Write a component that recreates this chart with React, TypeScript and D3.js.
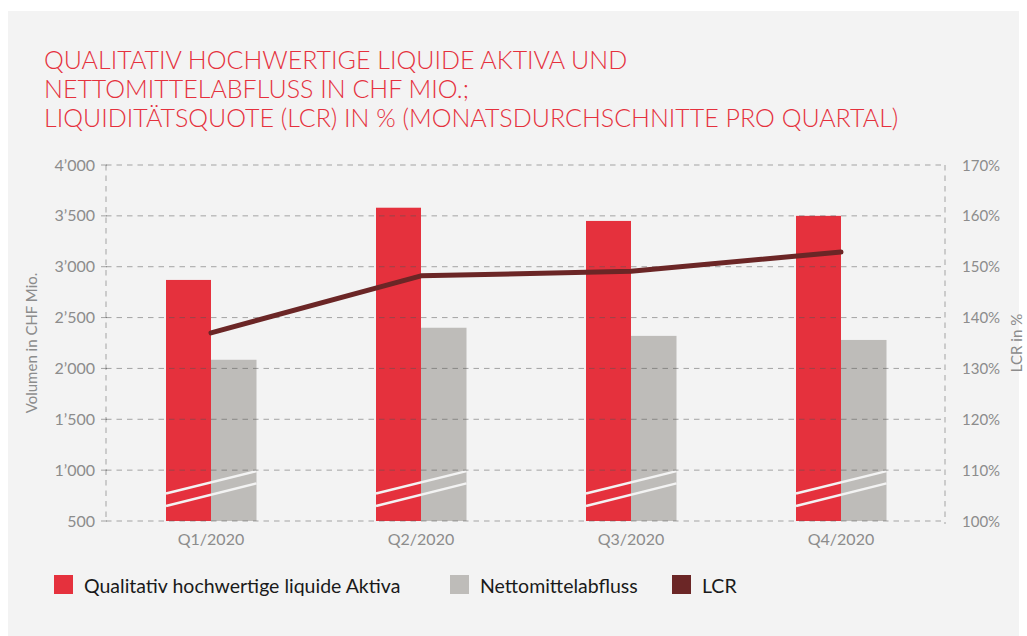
import React from 'react';
import * as d3 from 'd3';

const quarters = ['Q1/2020', 'Q2/2020', 'Q3/2020', 'Q4/2020'];
const hqla = [2870, 3580, 3450, 3500];
const netOutflow = [2085, 2400, 2320, 2280];
const lcr = [137.0, 148.2, 149.1, 152.9];
const leftTicks = [500, 1000, 1500, 2000, 2500, 3000, 3500, 4000];
const rightTicks = [100, 110, 120, 130, 140, 150, 160, 170];
// axis break marks, drawn as two white strokes across each group (in CHF Mio.)
const breakLines = [[770, 990], [648, 870]];

const titleLines = [
  'QUALITATIV HOCHWERTIGE LIQUIDE AKTIVA UND',
  'NETTOMITTELABFLUSS IN CHF MIO.;',
  'LIQUIDITÄTSQUOTE (LCR) IN % (MONATSDURCHSCHNITTE PRO QUARTAL)',
];
const legendItems = [
  { label: 'Qualitativ hochwertige liquide Aktiva', color: '#e5313d', x: 54 },
  { label: 'Nettomittelabfluss', color: '#bebcb9', x: 450 },
  { label: 'LCR', color: '#6b2626', x: 672 },
];

const RED = '#e5313d';
const GREY = '#bebcb9';
const LCR_COL = '#6b2626';
const FONT = 'Lato, "Open Sans", sans-serif';

const W = 1027;
const H = 636;
const left = 106;
const right = 946;
const top = 165;
const bottom = 521;

export default function App() {
  const x = d3.scaleBand<string>().domain(quarters).range([left, right]).paddingInner(0).paddingOuter(0);
  const yL = d3.scaleLinear().domain([500, 4000]).range([bottom, top]);
  const yR = d3.scaleLinear().domain([100, 170]).range([bottom, top]);
  const barW = 45;
  const groupOff = (x.bandwidth() - barW * 2) / 2;

  const line = d3
    .line<number>()
    .x((_, i) => (x(quarters[i]) as number) + groupOff + barW)
    .y((d) => yR(d));

  return (
    <svg width={W} height={H} style={{ position: 'absolute', left: 0, top: 0 }} fontFamily={FONT}>
      <rect x={8} y={11} width={1011} height={H - 11} fill="#f3f3f3" />

      {/* title */}
      {titleLines.map((t, i) => (
        <text key={i} x={44} y={69 + i * 29} fill="#e5313d" fontSize={25} fontWeight={300}>
          {t}
        </text>
      ))}

      {/* bars */}
      {quarters.map((q, i) => {
        const gx = (x(q) as number) + groupOff;
        return (
          <g key={q}>
            <rect x={gx} y={yL(hqla[i])} width={barW} height={bottom - yL(hqla[i])} fill={RED} />
            <rect x={gx + barW} y={yL(netOutflow[i])} width={barW + 0.5} height={bottom - yL(netOutflow[i])} fill={GREY} />
            {breakLines.map((b, j) => (
              <line
                key={j}
                x1={gx}
                x2={gx + barW * 2 + 0.5}
                y1={yL(b[0])}
                y2={yL(b[1])}
                stroke="#f3f3f3"
                strokeWidth={2.5}
              />
            ))}
          </g>
        );
      })}

      {/* grid lines */}
      {leftTicks.map((t) => (
        <line
          key={t}
          x1={left}
          x2={right}
          y1={yL(t)}
          y2={yL(t)}
          stroke="#555"
          strokeOpacity={0.5}
          strokeDasharray="5.5,5"
        />
      ))}
      <line x1={left} x2={left} y1={top} y2={bottom} stroke="#555" strokeOpacity={0.5} strokeDasharray="5.5,5" />
      <line x1={right - 1} x2={right - 1} y1={top} y2={bottom + 3} stroke="#555" strokeOpacity={0.5} strokeDasharray="5.5,5" />
      {leftTicks.map((t) => (
        <line key={'tk' + t} x1={left - 5} x2={left + 1} y1={yL(t)} y2={yL(t)} stroke="#555" strokeOpacity={0.5} />
      ))}

      {/* LCR line */}
      <path d={line(lcr) as string} fill="none" stroke={LCR_COL} strokeWidth={5} strokeLinecap="round" strokeLinejoin="round" />

      {/* left axis labels */}
      {leftTicks.map((t) => (
        <text key={'l' + t} x={95} y={yL(t) + 5.5} textAnchor="end" fill="#8c8c8c" fontSize={16}>
          {d3.format(',')(t).replace(',', '’')}
        </text>
      ))}
      {/* right axis labels */}
      {rightTicks.map((t) => (
        <text key={'r' + t} x={962} y={yR(t) + 5.5} textAnchor="start" fill="#8c8c8c" fontSize={15}>
          {t}%
        </text>
      ))}
      {/* x labels */}
      {quarters.map((q) => (
        <text key={'x' + q} x={(x(q) as number) + x.bandwidth() / 2} y={545} textAnchor="middle" fill="#8c8c8c" fontSize={16}>
          {q}
        </text>
      ))}

      <text transform={`translate(37,343) rotate(-90)`} textAnchor="middle" fill="#8c8c8c" fontSize={15}>
        Volumen in CHF Mio.
      </text>
      <text transform={`translate(1022,343) rotate(-90)`} textAnchor="middle" fill="#8c8c8c" fontSize={15}>
        LCR in %
      </text>

      {/* legend */}
      {legendItems.map((it) => (
        <g key={it.label}>
          <rect x={it.x} y={575} width={19} height={19} fill={it.color} />
          <text x={it.x + 30} y={593} fill="#1a1a1a" fontSize={19.5}>
            {it.label}
          </text>
        </g>
      ))}
    </svg>
  );
}
